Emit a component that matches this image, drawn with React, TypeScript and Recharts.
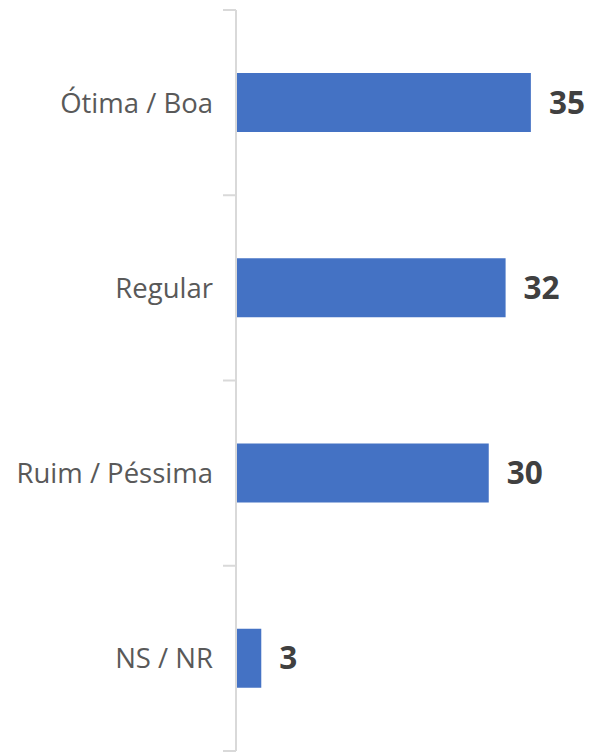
import React from "react";
import { BarChart, Bar, XAxis, YAxis, LabelList } from "recharts";

const categories = ["Ótima / Boa", "Regular", "Ruim / Péssima", "NS / NR"];
const values = [35, 32, 30, 3];

const data = categories.map((name, i) => ({ name, value: values[i] }));

const TICK_MARGIN = 23;
const TICK_LEN = 13;

function CategoryTick(props: any) {
  const { x, y, payload, index, visibleTicksCount } = props;
  const half = payload && typeof payload.offset === "number" ? payload.offset : 0;
  const axisX = x + TICK_MARGIN;
  const isLast = index === (visibleTicksCount ?? categories.length) - 1;
  return (
    <g>
      <line x1={axisX - TICK_LEN} x2={axisX} y1={y - half} y2={y - half} stroke="#d9d9d9" strokeWidth={2} />
      {isLast && (
        <line x1={axisX - TICK_LEN} x2={axisX} y1={y + half} y2={y + half} stroke="#d9d9d9" strokeWidth={2} />
      )}
      <text
        x={x}
        y={y}
        dy="0.36em"
        textAnchor="end"
        fill="#595959"
        fontSize={27.5}
        fontFamily="Open Sans"
      >
        {payload.value}
      </text>
    </g>
  );
}

export default function App() {
  return (
    <div style={{ position: "absolute", left: 0, top: 0, width: 592, height: 752, background: "#fff" }}>
      <BarChart
        width={592}
        height={752}
        data={data}
        layout="vertical"
        margin={{ top: 10, right: 19, bottom: 1, left: 0 }}
        barCategoryGap="34%"
      >
        <XAxis type="number" hide domain={[0, 40]} />
        <YAxis
          type="category"
          dataKey="name"
          width={236}
          axisLine={{ stroke: "#d9d9d9", strokeWidth: 2 }}
          tickLine={false}
          tickSize={0}
          tickMargin={TICK_MARGIN}
          tick={<CategoryTick />}
        />
        <Bar dataKey="value" fill="#4472C4" isAnimationActive={false}>
          <LabelList
            dataKey="value"
            position="right"
            offset={18}
            style={{ fill: "#404040", fontSize: 31.5, fontWeight: 700, fontFamily: "Open Sans" }}
          />
        </Bar>
      </BarChart>
    </div>
  );
}
